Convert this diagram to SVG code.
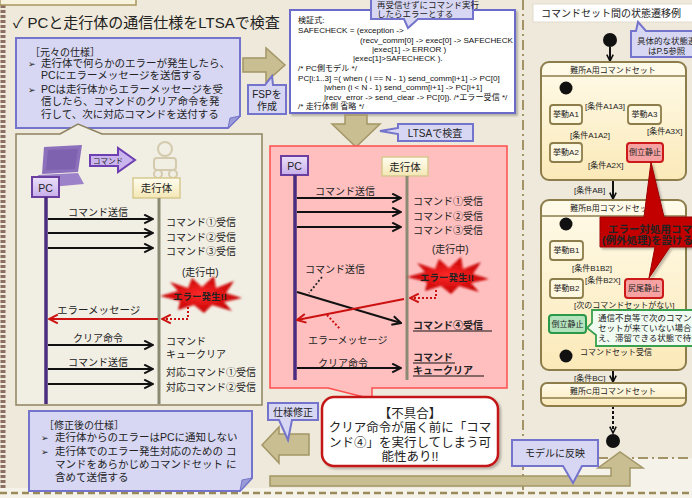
<svg xmlns="http://www.w3.org/2000/svg" width="692" height="498" viewBox="0 0 692 498">
<style>
  text { font-family: "Liberation Sans", "Noto Sans CJK JP", sans-serif; fill: #222; }
  .t10 { font-size: 10px; }
  .t105 { font-size: 10.5px; }
  .code { font-size: 8.1px; fill: #111; }
  .st { font-size: 8px; fill: #222; }
  .bul { font-family: "DejaVu Sans", sans-serif; font-size: 9px; fill: #222; }
  .msg { stroke: #111; stroke-width: 2; fill: none; marker-end: url(#ah); }
  .err { stroke: #cc1111; stroke-width: 2; fill: none; marker-end: url(#ahr); }
  .edot { stroke: #cc1111; stroke-width: 2; stroke-dasharray: 2 2; fill: none; }
  .tr { stroke: #111; stroke-width: 2; fill: none; marker-end: url(#ahs); }
  .tan { fill: #c9bd92; stroke: #a39667; stroke-width: 1.5; }
  .note { fill: #d7d7f3; stroke: #7474cc; stroke-width: 2; }
  .state { fill: url(#cream); stroke: #8d7d4b; stroke-width: 2; }
  .act { fill: #fff8e0; stroke: #8d7d4b; stroke-width: 1.8; }
  .red { fill: #f6a2a2; stroke: #cc1a1a; stroke-width: 2; }
  .pc { fill: url(#lav); stroke: #6b3fa0; stroke-width: 2; }
  .car { fill: url(#ylw); stroke: #d6c98f; stroke-width: 1.5; }
  .bold { font-weight: bold; }
  .ul { stroke: #111; stroke-width: 1.2; }
</style>
<defs>
  <marker id="ah" viewBox="0 0 10 10" refX="9" refY="5" markerWidth="11" markerHeight="11" markerUnits="userSpaceOnUse" orient="auto">
    <path d="M1,1 L9,5 L1,9" fill="none" stroke="#111" stroke-width="1.8"/>
  </marker>
  <marker id="ahr" viewBox="0 0 10 10" refX="9" refY="5" markerWidth="11" markerHeight="11" markerUnits="userSpaceOnUse" orient="auto">
    <path d="M1,1 L9,5 L1,9" fill="none" stroke="#cc1111" stroke-width="1.8"/>
  </marker>
  <marker id="ahs" viewBox="0 0 10 10" refX="9" refY="5" markerWidth="8" markerHeight="8" markerUnits="userSpaceOnUse" orient="auto">
    <path d="M1,1 L9,5 L1,9" fill="none" stroke="#111" stroke-width="2"/>
  </marker>
  <linearGradient id="cream" x1="0" y1="0" x2="0" y2="1">
    <stop offset="0" stop-color="#fffbea"/>
    <stop offset="1" stop-color="#fbe9b8"/>
  </linearGradient>
  <linearGradient id="lav" x1="0" y1="0" x2="0" y2="1">
    <stop offset="0" stop-color="#ebe0fa"/>
    <stop offset="1" stop-color="#c7aeea"/>
  </linearGradient>
  <linearGradient id="ylw" x1="0" y1="0" x2="0" y2="1">
    <stop offset="0" stop-color="#fffdf0"/>
    <stop offset="1" stop-color="#f4e7b4"/>
  </linearGradient>
  <radialGradient id="burstfill" cx="0.5" cy="0.5" r="0.5">
    <stop offset="0" stop-color="#ff2a2a"/>
    <stop offset="1" stop-color="#c20000"/>
  </radialGradient>
  <filter id="soft" x="-20%" y="-40%" width="140%" height="180%">
    <feGaussianBlur stdDeviation="0.9"/>
  </filter>
  <filter id="shadow" x="-10%" y="-10%" width="130%" height="130%">
    <feDropShadow dx="2" dy="2" stdDeviation="1.2" flood-color="#000" flood-opacity="0.25"/>
  </filter>
  <path id="burst" d="M-40,0 L-22,-5 L-30,-14 L-12,-8 L-8,-18 L2,-9 L14,-20 L16,-8 L34,-15 L26,-3 L42,2 L24,6 L32,15 L12,9 L4,17 L-6,9 L-22,14 L-20,5 Z"/>
</defs>

<!-- page background -->
<rect width="692" height="498" fill="#eee9da"/>
<rect x="523" y="458" width="169" height="30" fill="#f5f2ea"/>
<rect x="0" y="488" width="692" height="10" fill="#f5f2ea"/>
<line x1="0" y1="493" x2="692" y2="493" stroke="#9a8a5a" stroke-width="2.5" stroke-dasharray="7 4"/>
<line x1="3" y1="0" x2="3" y2="490" stroke="#8c6e62" stroke-width="5" stroke-dasharray="3 2"/>
<line x1="523" y1="0" x2="523" y2="490" stroke="#a39467" stroke-width="2" stroke-dasharray="10 4 2 4"/>
<line x1="598" y1="458" x2="692" y2="458" stroke="#a39467" stroke-width="2" stroke-dasharray="10 4 2 4"/>
<rect x="0" y="-4" width="136" height="9" fill="#f6f2dc" stroke="#a8975f" stroke-width="1.5"/>

<!-- title -->
<text x="13" y="28" style="font-size:15px" fill="#333">✓ PCと走行体の通信仕様をLTSAで検査</text>

<!-- original spec note -->
<g id="spec-original">
  <path class="note" d="M16,38 H240 V116 L228,128 H16 Z"/>
  <path d="M240,116 L230,118 L228,128 Z" fill="#9a9ad8" stroke="#7474cc" stroke-width="1"/>
  <text x="30" y="56" class="t10">［元々の仕様］</text>
  <text x="28" y="67" class="bul">➢</text>
  <text x="41" y="67" class="t105">走行体で何らかのエラーが発生したら、</text>
  <text x="41" y="79" class="t105">PCにエラーメッセージを送信する</text>
  <text x="28" y="93" class="bul">➢</text>
  <text x="41" y="93" class="t105">PCは走行体からエラーメッセージを受</text>
  <text x="41" y="105" class="t105">信したら、コマンドのクリア命令を発</text>
  <text x="41" y="118" class="t105">行して、次に対応コマンドを送付する</text>
</g>

<!-- original sequence -->
<g id="seq-original">
  <path d="M16,134 H60 L78,124 L102,134 H262 V405 H16 Z" fill="#f1eee3" stroke="#8e8360" stroke-width="1.5"/>
  <!-- laptop icon -->
  <g opacity="0.85">
    <polygon points="44,147 82,145 78,172 42,174" fill="#7c5bb5"/>
    <polygon points="48,150 78,149 75,169 46,170" fill="#6a4aa6"/>
    <polygon points="38,175 78,173 84,184 40,188" fill="#8e70c4"/>
  </g>
  <!-- vehicle icon (faint) -->
  <g fill="none" stroke="#cdc2a0" stroke-width="2" opacity="0.8">
    <circle cx="165" cy="149" r="7"/>
    <rect x="154" y="158" width="22" height="12" rx="3"/>
    <circle cx="158" cy="174" r="4"/>
    <circle cx="173" cy="174" r="4"/>
  </g>
  <!-- command arrow -->
  <polygon points="90,155 118,155 118,148 135,160 118,172 118,166 90,166" fill="#cbb5ee" stroke="#6e3fb0" stroke-width="2"/>
  <text x="93" y="164" style="font-size:7.5px" fill="#2a1050">コマンド</text>

  <rect class="pc" x="32" y="177" width="27" height="20"/>
  <text x="45.5" y="192" class="t105" text-anchor="middle">PC</text>
  <rect class="car" x="133" y="178" width="47" height="20"/>
  <text x="156.5" y="192" class="t105" text-anchor="middle">走行体</text>

  <line x1="46" y1="197" x2="46" y2="404" stroke="#4b2d7f" stroke-width="3.5"/>
  <line x1="159" y1="198" x2="159" y2="404" stroke="#8b8a72" stroke-width="3"/>

  <text x="68" y="216" class="t10">コマンド送信</text>
  <path class="msg" d="M48,219 H153"/>
  <path class="msg" d="M48,233 H153"/>
  <path class="msg" d="M48,248 H153"/>
  <text x="166" y="226" class="t10">コマンド①受信</text>
  <text x="166" y="241" class="t10">コマンド②受信</text>
  <text x="166" y="255" class="t10">コマンド③受信</text>
  <text x="182" y="276" class="t10">(走行中)</text>

  <use href="#burst" x="200" y="296" fill="url(#burstfill)" filter="url(#soft)"/>
  <text x="200" y="300" text-anchor="middle" class="bold" style="font-size:9.5px" fill="#fff">エラー発生!!</text>

  <path class="edot" d="M188,307 V319 H162" marker-end="url(#ahr)"/>
  <path class="err" d="M158,319 H49"/>
  <text x="57" y="314" class="t105" fill="#d02020">エラーメッセージ</text>

  <text x="73" y="342" class="t10">クリア命令</text>
  <path class="msg" d="M48,345 H153"/>
  <text x="166" y="345" class="t10">コマンド</text>
  <text x="166" y="358" class="t10">キュークリア</text>

  <text x="68" y="366" class="t10">コマンド送信</text>
  <path class="msg" d="M48,369 H153"/>
  <path class="msg" d="M48,384 H153"/>
  <text x="166" y="376" class="t10">対応コマンド①受信</text>
  <text x="166" y="391" class="t10">対応コマンド②受信</text>
</g>

<!-- FSP arrow -->
<g id="fsp">
  <polygon class="tan" points="243,58 266,58 266,48 285,65 266,82 266,72 243,72"/>
  <path class="note" d="M248,85 H265 L272,76 L273,85 H286 V114 H248 Z" stroke-width="1.5"/>
  <text x="267" y="98" class="t10" text-anchor="middle">FSPを</text>
  <text x="267" y="110" class="t10" text-anchor="middle">作成</text>
</g>

<!-- FSP code -->
<g id="fsp-code">
  <rect x="290" y="10" width="225" height="103" fill="#fff" stroke="#6a6acb" stroke-width="2" filter="url(#shadow)"/>
  <text x="298" y="23" class="code">検証式:</text>
  <text x="298" y="33" class="code">SAFECHECK = (exception -&gt;</text>
  <text x="360" y="43" class="code">(recv_comm[0] -&gt; exec[0] -&gt; SAFECHECK</text>
  <text x="372" y="52" class="code">|exec[1] -&gt; ERROR )</text>
  <text x="353" y="61" class="code">|exec[1]&gt;SAFECHECK ).</text>
  <text x="298" y="71" class="code">/* PC側モデル */</text>
  <text x="298" y="81" class="code">PC[i:1..3] =(   when ( i == N - 1) send_comm[i+1] -&gt; PC[0]</text>
  <text x="324" y="90" class="code">|when  (i &lt; N - 1) send_comm[i+1] -&gt; PC[i+1]</text>
  <text x="324" y="100" class="code">|recv_error -&gt; send_clear -&gt; PC[0]). /*エラー受信 */</text>
  <text x="298" y="109" class="code">/* 走行体側 省略 */</text>
</g>

<!-- remark above the code -->
<g id="remark">
  <path class="note" d="M371,-4 H473 V19 H418 L408,28 L404,19 H371 Z" stroke-width="1.5"/>
  <text x="377" y="8" style="font-size:8.5px">再受信せずにコマンド実行</text>
  <text x="377" y="17" style="font-size:8.5px">したらエラーとする</text>
</g>

<!-- LTSA arrow -->
<g id="ltsa">
  <polygon class="tan" points="345,115 367,115 367,124 380,124 356,147 332,124 345,124"/>
  <path class="note" d="M398,124 H473 V141 H398 V134 L380,131 L398,128 Z" stroke-width="1.5"/>
  <text x="435" y="137" class="t10" text-anchor="middle">LTSAで検査</text>
</g>

<!-- checked sequence -->
<g id="seq-checked">
  <path d="M270,146 H507 V388 H372 V399 L328,388 H270 Z" fill="#ffbfbf" stroke="#ff4d4d" stroke-width="1.5"/>
  <rect class="pc" x="281" y="156" width="27" height="19"/>
  <text x="294.5" y="170" class="t105" text-anchor="middle">PC</text>
  <rect class="car" x="382" y="157" width="46" height="19"/>
  <text x="405" y="171" class="t105" text-anchor="middle">走行体</text>

  <line x1="295" y1="175" x2="295" y2="380" stroke="#4b2d7f" stroke-width="3.5"/>
  <line x1="407" y1="176" x2="407" y2="380" stroke="#8b8a72" stroke-width="3"/>

  <text x="315" y="195" class="t10">コマンド送信</text>
  <path class="msg" d="M297,198 H401"/>
  <path class="msg" d="M297,212 H401"/>
  <path class="msg" d="M297,227 H401"/>
  <text x="413" y="205" class="t10">コマンド①受信</text>
  <text x="413" y="220" class="t10">コマンド②受信</text>
  <text x="413" y="234" class="t10">コマンド③受信</text>
  <text x="432" y="253" class="t10">(走行中)</text>

  <use href="#burst" x="447" y="277" fill="url(#burstfill)" filter="url(#soft)"/>
  <text x="447" y="281" text-anchor="middle" class="bold" style="font-size:9.5px" fill="#fff">エラー発生!!</text>

  <text x="305" y="273" class="t10">コマンド送信</text>
  <path d="M322,277 L309,293" stroke="#222" stroke-width="1.8" stroke-dasharray="2 2" fill="none"/>
  <path class="msg" d="M297,292 L401,323"/>
  <path class="edot" d="M436,290 V298 H410" marker-end="url(#ahr)"/>
  <path class="err" d="M404,299 L297,320"/>
  <path class="edot" d="M327,315 L340,329"/>
  <text x="308" y="344" class="t10" fill="#d02020">エラーメッセージ</text>
  <text x="413" y="329" class="t10 bold">コマンド④受信</text>
  <line class="ul" x1="413" y1="331" x2="492" y2="331"/>

  <text x="318" y="367" class="t10">クリア命令</text>
  <path class="msg" d="M297,368 H401"/>
  <text x="413" y="361" class="t10 bold">コマンド</text>
  <line class="ul" x1="413" y1="363" x2="455" y2="363"/>
  <text x="413" y="374" class="t10 bold">キュークリア</text>
  <line class="ul" x1="413" y1="376" x2="484" y2="376"/>
</g>

<!-- defect -->
<g id="defect">
  <rect x="322" y="397" width="176" height="69" rx="12" fill="#fff" stroke="#c41818" stroke-width="2.5" filter="url(#shadow)"/>
  <g style="font-size:12.5px" text-anchor="middle">
    <text x="410" y="418" fill="#d01010">【不具合】</text>
    <text x="410" y="432" fill="#d01010">クリア命令が届く前に「コマ</text>
    <text x="410" y="447" fill="#d01010">ンド④」を実行してしまう可</text>
    <text x="410" y="461" fill="#d01010">能性あり!!</text>
  </g>
</g>

<!-- revised spec -->
<g id="spec-revised">
  <path class="note" d="M29,411 H252 V478 L240,491 H29 Z"/>
  <path d="M252,478 L242,480 L240,491 Z" fill="#9a9ad8" stroke="#7474cc" stroke-width="1"/>
  <text x="44" y="429" class="t10">［修正後の仕様］</text>
  <text x="41" y="441" class="bul">➢</text>
  <text x="55" y="441" class="t105">走行体からのエラーはPCに通知しない</text>
  <text x="41" y="455" class="bul">➢</text>
  <text x="55" y="455" class="t105">走行体でのエラー発生対応のための コ</text>
  <text x="55" y="468" class="t105">マンドをあらかじめコマンドセット に</text>
  <text x="55" y="481" class="t105">含めて送信する</text>
</g>

<!-- spec revision arrow -->
<g id="revise">
  <polygon class="tan" points="262,445 279,427 279,434 309,434 309,455 279,455 279,463"/>
  <path class="note" d="M268,403 H318 V420 H292 L288,440 L279,420 H268 Z" stroke-width="1.5"/>
  <text x="293" y="416" class="t10" text-anchor="middle">仕様修正</text>
</g>

<!-- feedback to model -->
<g id="feedback">
  <path class="tan" d="M270,476 H611 V468 H598 L620,452 L643,468 H630 V486 H270 Z"/>
  <path class="note" d="M512,440 H598 V466 H582 L573,483 L563,466 H512 Z" stroke-width="1.5"/>
  <text x="555" y="457" class="t10" text-anchor="middle">モデルに反映</text>
</g>

<!-- state machine panel -->
<g id="sm-title">
  <rect x="533" y="4" width="165" height="18" fill="#fff" stroke="#e0dccd"/>
  <text x="541" y="17" style="font-size:10px" fill="#777">コマンドセット間の状態遷移例</text>
</g>

<g id="sm-note">
  <path class="note" d="M631,31 H636 L638,22 L646,31 H694 V57 H631 Z" stroke-width="1.5"/>
  <text x="637" y="44" style="font-size:8.5px">具体的な状態遷移</text>
  <text x="648" y="54" style="font-size:8.5px">はP.5参照</text>
</g>

<g id="sm-connectors">
  <path class="tr" d="M610,47 V61"/>
  <path class="tr" d="M566,95 V104"/>
  <path class="tr" d="M582,114 H626"/>
  <path class="tr" d="M566,124 V142"/>
  <path class="tr" d="M644,124 V142"/>
  <path class="tr" d="M582,153 H626"/>
  <path class="tr" d="M613,180 V199"/>
  <path class="tr" d="M566,231 V240"/>
  <path class="tr" d="M566,260 V278"/>
  <path class="tr" d="M583,288 H624"/>
  <path class="tr" d="M566,298 V314"/>
  <path class="tr" d="M566,333 V348"/>
  <path class="tr" d="M613,370 V382"/>
  <path class="tr" d="M613,406 V433" stroke-dasharray="3 2"/>
</g>

<circle id="sm-start" cx="610" cy="40" r="7" fill="#111"/>

<g id="set-a">
  <rect class="state" x="541" y="62" width="145" height="118" rx="8"/>
  <line x1="541" y1="76" x2="686" y2="76" stroke="#8d7d4b" stroke-width="1.5"/>
  <text x="613" y="73" class="st" text-anchor="middle">難所A用コマンドセット</text>
  <circle cx="566" cy="88" r="6.5" fill="#111"/>
  <rect class="act" x="550" y="105" width="32" height="19" rx="3"/>
  <text x="566" y="117" class="st" text-anchor="middle">挙動A1</text>
  <rect class="act" x="628" y="105" width="33" height="19" rx="3"/>
  <text x="644.5" y="117" class="st" text-anchor="middle">挙動A3</text>
  <rect class="act" x="550" y="143" width="32" height="19" rx="3"/>
  <text x="566" y="155" class="st" text-anchor="middle">挙動A2</text>
  <rect class="red" x="627" y="143" width="36" height="19" rx="3"/>
  <text x="645" y="155" class="st" text-anchor="middle">倒立静止</text>
  <text x="585" y="109" class="st">[条件A1A3]</text>
  <text x="570" y="138" class="st">[条件A1A2]</text>
  <text x="647" y="134" class="st">[条件A3X]</text>
  <text x="588" y="168" class="st">[条件A2X]</text>
</g>
<text x="574" y="193" class="st">[条件AB]</text>

<g id="set-b">
  <rect class="state" x="541" y="200" width="145" height="170" rx="8"/>
  <line x1="541" y1="216" x2="686" y2="216" stroke="#8d7d4b" stroke-width="1.5"/>
  <text x="613" y="211" class="st" text-anchor="middle">難所B用コマンドセット</text>
  <circle cx="566" cy="224" r="6.5" fill="#111"/>
  <rect class="act" x="550" y="241" width="33" height="19" rx="3"/>
  <text x="566.5" y="253" class="st" text-anchor="middle">挙動B1</text>
  <rect class="act" x="550" y="279" width="33" height="19" rx="3"/>
  <text x="566.5" y="291" class="st" text-anchor="middle">挙動B2</text>
  <rect class="red" x="625" y="279" width="38" height="19" rx="3"/>
  <text x="644" y="291" class="st" text-anchor="middle">尻尾静止</text>
  <rect x="549" y="315" width="37" height="18" rx="3" fill="#b3e3bd" stroke="#2a9a4a" stroke-width="2"/>
  <text x="567.5" y="327" class="st" text-anchor="middle">倒立静止</text>
  <circle cx="566" cy="356" r="6.5" fill="#111"/>
  <text x="572" y="271" class="st">[条件B1B2]</text>
  <text x="585" y="283" class="st">[条件B2X]</text>
  <text x="574" y="308" class="st">[次のコマンドセットがない]</text>
  <text x="580" y="355" class="st">コマンドセット受信</text>
</g>
<text x="574" y="381" class="st">[条件BC]</text>

<g id="set-c">
  <rect class="state" x="541" y="383" width="145" height="23" rx="6"/>
  <line x1="541" y1="398" x2="686" y2="398" stroke="#8d7d4b" stroke-width="1.5"/>
  <text x="613" y="394" class="st" text-anchor="middle">難所C用コマンドセット</text>
</g>
<circle id="sm-end" cx="613" cy="441" r="7" fill="#111"/>

<!-- wait-state note -->
<g id="wait-note">
  <path d="M592,310 H694 V346 H596 V335 L587,328 L592,323 Z" fill="#f0fbf2" stroke="#3aa050" stroke-width="1.8"/>
  <text x="598" y="321" style="font-size:8.5px">通信不良等で次のコマンド</text>
  <text x="598" y="331" style="font-size:8.5px">セットが来ていない場合に備</text>
  <text x="598" y="341" style="font-size:8.5px">え、滞留できる状態で待つ</text>
</g>

<!-- exception callout -->
<g id="exception">
  <path d="M600,217 H644 L651,162 L664,217 H694 V247 H670 L649,278 L655,247 H600 Z" fill="#c20000" stroke="#9a0000" stroke-width="1" filter="url(#shadow)"/>
  <text x="608" y="233" class="bold" style="font-size:10.5px" fill="#fff">エラー対処用コマンド</text>
  <text x="602" y="244" class="bold" style="font-size:10.5px" fill="#fff">(例外処理)を設ける</text>
</g>
</svg>
